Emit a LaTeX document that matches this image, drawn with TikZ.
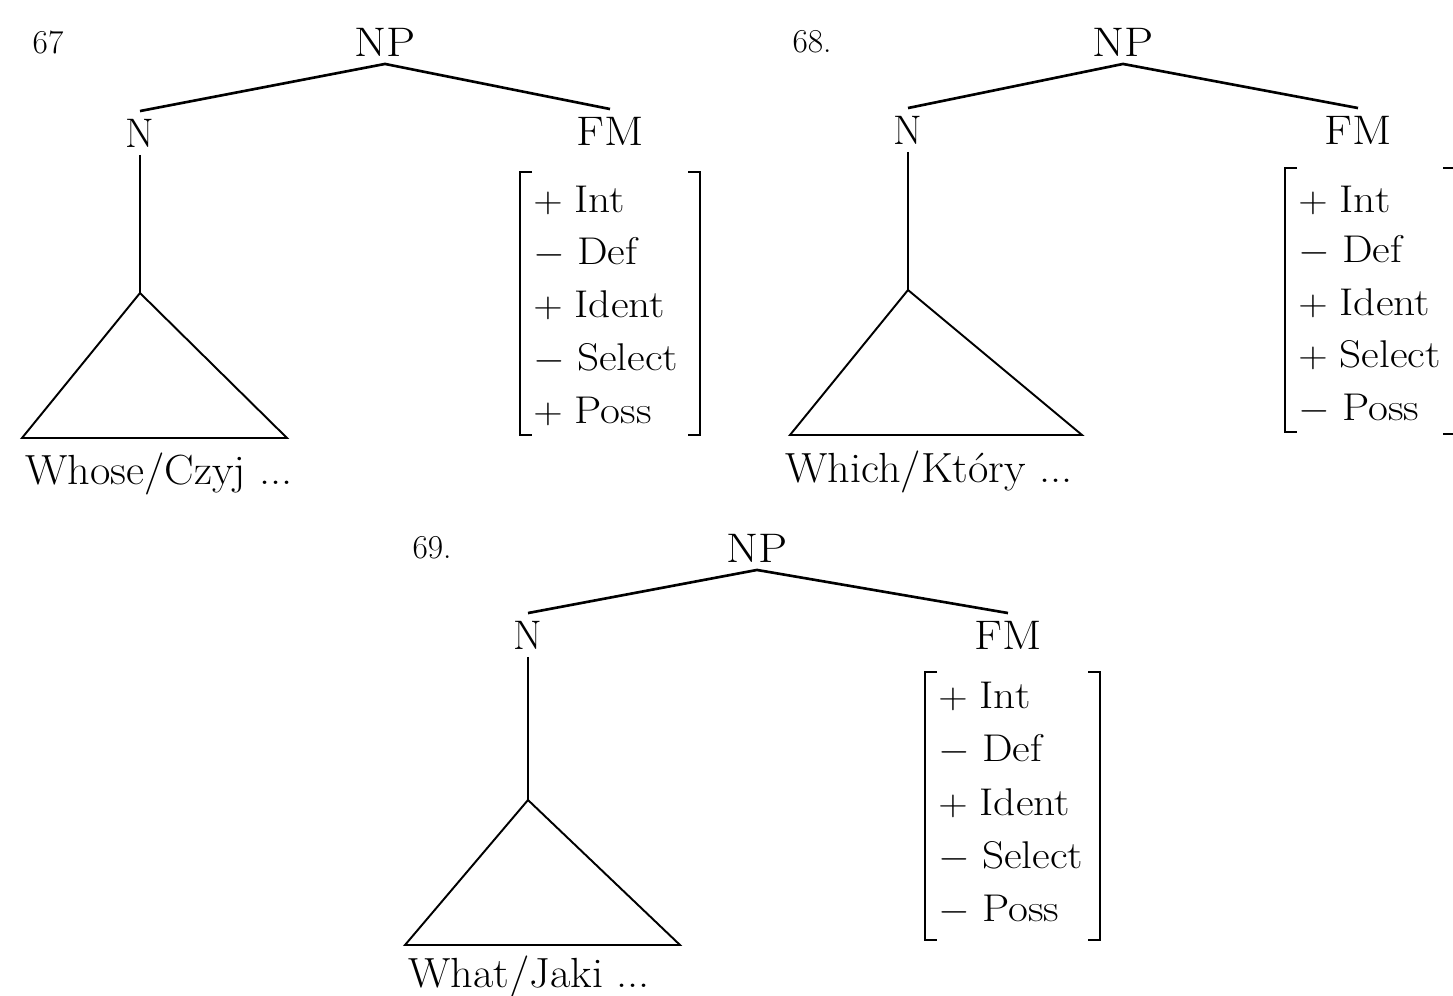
\documentclass[tikz,border=0pt]{standalone}
\newcommand{\wx}[1]{\scalebox{1.05}[1]{#1}}
\newcommand{\fx}[1]{\scalebox{1.12}[1]{#1}}
\newcommand{\lx}[1]{\scalebox{1.12}[1]{#1}}
\begin{document}
\begin{tikzpicture}[x=0.02cm,y=-0.02cm,
  lab/.style={inner sep=0.15cm,font=\fontsize{23.5}{27}\selectfont},
  feat/.style={anchor=base west,inner sep=0pt,font=\fontsize{22}{26}\selectfont},
  num/.style={inner sep=0pt,font=\fontsize{19}{23}\selectfont},
  word/.style={anchor=base west,inner sep=0pt,font=\fontsize{24}{28}\selectfont},
  edge/.style={line width=1.5pt},
  thinline/.style={line width=1.1pt},
  brk/.style={line width=1.1pt}]
\useasboundingbox (0,0) rectangle (1453,996);

% ---------- 67 ----------
\node[num] (n67) at (48,42) {67};
\node[lab] (np1) at (385,42) {\lx{NP}};
\node[lab] (n1) at (140,133) {N};
\node[lab] (fm1) at (610,131) {\lx{FM}};
\draw[edge] (np1.south) -- (n1.north);
\draw[edge] (np1.south) -- (fm1.north);
\coordinate (t1a) at (140,293);
\coordinate (t1l) at (22,438);
\coordinate (t1r) at (287,438);
\draw[thinline] (n1.south) -- (t1a);
\draw[thinline] (t1a) -- (t1l) -- (t1r) -- cycle;
\node[word] (w1) at (25,484) {\wx{Whose/Czyj ...}};
\draw[brk] (532,172) -- (520,172) -- (520,435) -- (532,435);
\draw[brk] (688,172) -- (700,172) -- (700,435) -- (688,435);
\node[feat] (f1a) at (533,213) {\fx{$+$\;Int}};
\node[feat] (f1b) at (533,265) {\fx{$-$\;Def}};
\node[feat] (f1c) at (533,318) {\fx{$+$\;Ident}};
\node[feat] (f1d) at (533,371) {\fx{$-$\;Select}};
\node[feat] (f1e) at (533,424) {\fx{$+$\;Poss}};

% ---------- 68 ----------
\node[num] (n68) at (812,42) {68.};
\node[lab] (np2) at (1123,42) {\lx{NP}};
\node[lab] (n2) at (908,130) {N};
\node[lab] (fm2) at (1358,130) {\lx{FM}};
\draw[edge] (np2.south) -- (n2.north);
\draw[edge] (np2.south) -- (fm2.north);
\coordinate (t2a) at (908,290);
\coordinate (t2l) at (790,435);
\coordinate (t2r) at (1082,435);
\draw[thinline] (n2.south) -- (t2a);
\draw[thinline] (t2a) -- (t2l) -- (t2r) -- cycle;
\node[word] (w2) at (785,482) {\wx{Which/Kt\'ory ...}};
\draw[brk] (1297,168) -- (1285,168) -- (1285,432) -- (1297,432);
\draw[brk] (1443,168) -- (1455,168) -- (1455,434) -- (1443,434);
\node[feat] (f2a) at (1298,213) {\fx{$+$\;Int}};
\node[feat] (f2b) at (1298,263) {\fx{$-$\;Def}};
\node[feat] (f2c) at (1298,316) {\fx{$+$\;Ident}};
\node[feat] (f2d) at (1298,368) {\fx{$+$\;Select}};
\node[feat] (f2e) at (1298,421) {\fx{$-$\;Poss}};

% ---------- 69 ----------
\node[num] (n69) at (432,548) {69.};
\node[lab] (np3) at (757,548) {\lx{NP}};
\node[lab] (n3) at (528,635) {N};
\node[lab] (fm3) at (1008,635) {\lx{FM}};
\draw[edge] (np3.south) -- (n3.north);
\draw[edge] (np3.south) -- (fm3.north);
\coordinate (t3a) at (528,800);
\coordinate (t3l) at (405,945);
\coordinate (t3r) at (680,945);
\draw[thinline] (n3.south) -- (t3a);
\draw[thinline] (t3a) -- (t3l) -- (t3r) -- cycle;
\node[word] (w3) at (408,987) {\wx{What/Jaki ...}};
\draw[brk] (937,672) -- (925,672) -- (925,940) -- (937,940);
\draw[brk] (1088,672) -- (1100,672) -- (1100,940) -- (1088,940);
\node[feat] (f3a) at (938,708) {\fx{$+$\;Int}};
\node[feat] (f3b) at (938,761) {\fx{$-$\;Def}};
\node[feat] (f3c) at (938,815) {\fx{$+$\;Ident}};
\node[feat] (f3d) at (938,868) {\fx{$-$\;Select}};
\node[feat] (f3e) at (938,921) {\fx{$-$\;Poss}};
\end{tikzpicture}
\end{document}
